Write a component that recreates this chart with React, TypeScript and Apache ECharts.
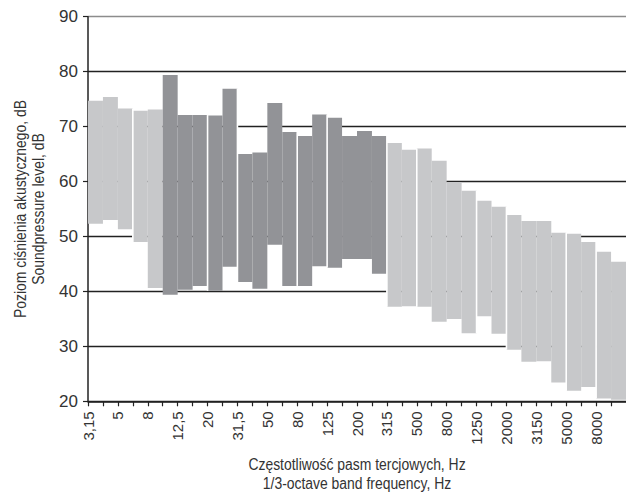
import React, { useEffect, useRef } from "react";
import * as echarts from "echarts";

// 1/3-octave band centre frequencies (Hz), Polish decimal notation
const bands = [
  "3,15", "4", "5", "6,3", "8", "10", "12,5", "16", "20", "25", "31,5", "40",
  "50", "63", "80", "100", "125", "160", "200", "250", "315", "400", "500", "630",
  "800", "1000", "1250", "1600", "2000", "2500", "3150", "4000", "5000", "6300", "8000", "10000",
];

// Upper edge of the measured sound pressure range in each band, dB
const upper = [
  74.7, 75.4, 73.3, 72.9, 73.1, 79.4, 72.1, 72.1, 72.0, 76.9, 65.0, 65.3,
  74.3, 69.0, 68.3, 72.2, 71.6, 68.3, 69.2, 68.3, 67.0, 65.8, 66.0, 63.8,
  59.9, 58.3, 56.5, 55.4, 53.9, 52.8, 52.8, 50.7, 50.5, 49.0, 47.2, 45.4,
];

// Lower edge of the measured sound pressure range in each band, dB
const lower = [
  52.3, 53.0, 51.3, 49.0, 40.6, 39.4, 40.3, 41.0, 40.1, 44.5, 41.7, 40.5,
  48.5, 41.0, 41.0, 44.6, 44.3, 45.9, 45.9, 43.2, 37.2, 37.3, 37.2, 34.5,
  35.0, 32.4, 35.5, 32.3, 29.4, 27.2, 27.3, 23.4, 21.9, 22.6, 20.5, 20.3,
];

// Bands 10 Hz .. 250 Hz are shown in the darker shade
const DARK_FROM = 5;
const DARK_TO = 19;
// Band boundaries that carry a thin white separator
const separators = [3, 8, 10, 14, 16, 20, 22, 26, 28, 32, 34];

const LIGHT = "#c7c8ca";
const DARK = "#929397";
const TEXT = "#333333";
const FONT = "'Liberation Sans', Arial, sans-serif";
// Titles are set in a narrowed face
const TITLE_SCALE = 0.87;

const titleStyle = (text: string) => ({
  text,
  fontSize: 16,
  fontFamily: FONT,
  fill: TEXT,
  textAlign: "center",
  textVerticalAlign: "middle",
});

export default function App() {
  const ref = useRef<HTMLDivElement>(null);

  useEffect(() => {
    if (!ref.current) return;
    const chart = echarts.init(ref.current, undefined, { renderer: "svg" });

    const data = bands.map((_, i) => [i, lower[i], upper[i]]);

    chart.setOption({
      animation: false,
      backgroundColor: "#ffffff",
      textStyle: { fontFamily: FONT },
      grid: { left: 88, right: 0, top: 16.7, bottom: 90.7, containLabel: false },
      xAxis: {
        type: "value",
        min: 0,
        max: bands.length,
        interval: 1,
        axisLine: { show: true, lineStyle: { color: "#222", width: 1.5 } },
        axisTick: { show: true, length: 5, lineStyle: { color: "#222", width: 1.2 } },
        splitLine: { show: false },
        axisLabel: {
          rotate: 90,
          margin: 10,
          fontSize: 15,
          color: TEXT,
          fontFamily: FONT,
          showMaxLabel: false,
          formatter: (v: number) => (v % 2 === 0 && v < bands.length ? bands[v] : ""),
        },
      },
      yAxis: {
        type: "value",
        min: 20,
        max: 90,
        interval: 10,
        axisLine: { show: true, lineStyle: { color: "#222", width: 1.5 } },
        axisTick: { show: true, length: 5, lineStyle: { color: "#222", width: 1.2 } },
        axisLabel: { fontSize: 17, color: TEXT, margin: 10, fontFamily: FONT },
        splitLine: {
          show: true,
          lineStyle: {
            color: ["#222", "#222", "#222", "#222", "#222", "#222", "#222", "#8c8c8c"],
            width: 1.3,
          },
        },
      },
      series: [
        {
          type: "custom",
          data,
          encode: { x: 0, y: [1, 2] },
          renderItem: (params: any, api: any) => {
            const i = api.value(0);
            const lo = api.value(1);
            const hi = api.value(2);
            const p0 = api.coord([i, hi]);
            const p1 = api.coord([i + 1, lo]);
            const fill = i >= DARK_FROM && i <= DARK_TO ? DARK : LIGHT;
            const children: any[] = [
              {
                type: "rect",
                shape: { x: p0[0], y: p0[1], width: p1[0] - p0[0], height: p1[1] - p0[1] },
                style: { fill },
              },
            ];
            if (separators.indexOf(i) >= 0 && i > 0) {
              const top = api.coord([i, Math.max(hi, upper[i - 1])]);
              const bot = api.coord([i, Math.min(lo, lower[i - 1])]);
              children.push({
                type: "line",
                shape: { x1: top[0], y1: top[1], x2: bot[0], y2: bot[1] },
                style: { stroke: "#ffffff", lineWidth: 1.6 },
              });
            }
            return { type: "group", children };
          },
        },
      ],
      graphic: [
        {
          type: "text",
          x: 20,
          y: 209,
          rotation: Math.PI / 2,
          scaleX: TITLE_SCALE,
          style: titleStyle("Poziom ciśnienia akustycznego, dB"),
        },
        {
          type: "text",
          x: 38,
          y: 209,
          rotation: Math.PI / 2,
          scaleX: TITLE_SCALE,
          style: titleStyle("Soundpressure level, dB"),
        },
        {
          type: "text",
          x: 357,
          y: 464,
          scaleX: TITLE_SCALE,
          style: titleStyle("Częstotliwość pasm tercjowych, Hz"),
        },
        {
          type: "text",
          x: 357,
          y: 483,
          scaleX: TITLE_SCALE,
          style: titleStyle("1/3-octave band frequency, Hz"),
        },
      ],
    });

    return () => chart.dispose();
  }, []);

  return (
    <div
      ref={ref}
      style={{ position: "fixed", left: 0, top: 0, width: 626, height: 492 }}
    />
  );
}
